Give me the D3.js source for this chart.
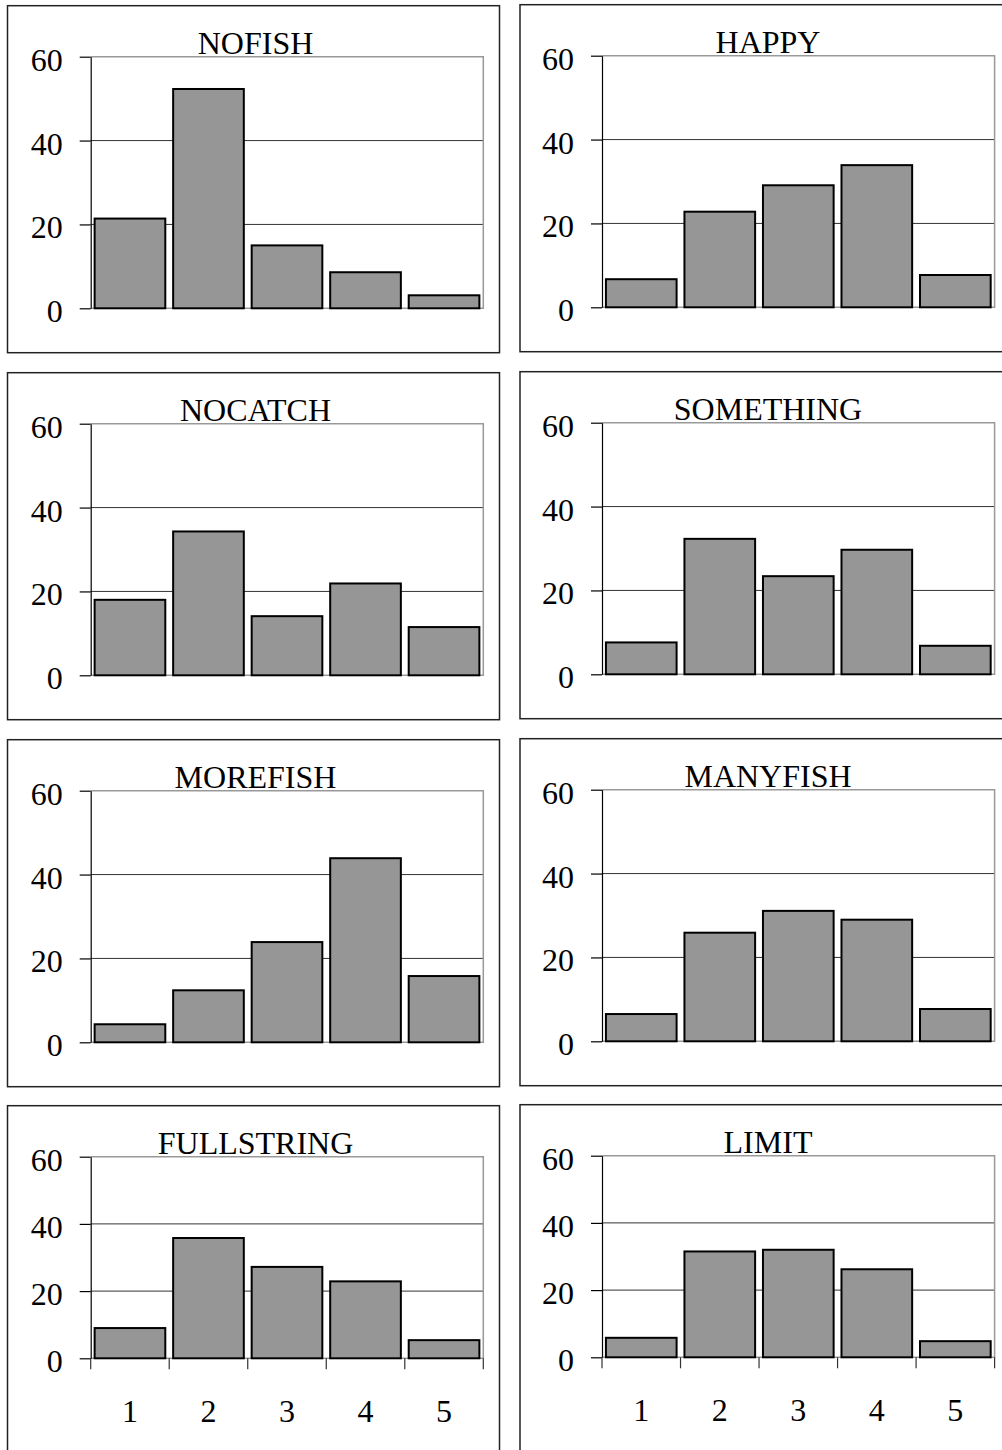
<!DOCTYPE html>
<html>
<head>
<meta charset="utf-8">
<script src="https://cdn.jsdelivr.net/npm/d3@7"></script>
<style>
  html, body { margin: 0; padding: 0; background: #fff; }
  svg { display: block; }
  text { font-family: "Liberation Serif", "Times New Roman", serif; fill: #000; }
</style>
</head>
<body>
<svg id="chart" width="1002" height="1450"></svg>
<script>
// ---- data ----
const categories = ["1", "2", "3", "4", "5"];
const yTicks = [0, 20, 40, 60];
const titles = ["NOFISH", "HAPPY", "NOCATCH", "SOMETHING", "MOREFISH", "MANYFISH", "FULLSTRING", "LIMIT"];
const nofish     = [21.4, 52.3, 15.0, 8.6, 3.1];
const happy      = [6.7, 22.8, 29.1, 33.9, 7.7];
const nocatch    = [18.0, 34.3, 14.1, 21.9, 11.5];
const something  = [7.6, 32.3, 23.4, 29.7, 6.8];
const morefish   = [4.3, 12.4, 23.9, 43.9, 15.8];
const manyfish   = [6.5, 25.9, 31.1, 29.0, 7.7];
const fullstring = [9.0, 35.8, 27.2, 22.9, 5.4];
const limit      = [5.8, 31.5, 32.0, 26.2, 4.8];
const seriesValues = [nofish, happy, nocatch, something, morefish, manyfish, fullstring, limit];

// ---- layout ----
const FONT = '"Liberation Serif", "Times New Roman", serif';
const svg = d3.select("#chart");
const colX = [7.5, 520];
const rowY = [5.7, 372.7, 739.7, 1105.7];
const frameW = 492, frameH = 347;
const plotLeft = 83.2, plotRight = 475.8, plotTop = 51;

titles.forEach((title, i) => {
  const col = i % 2, row = Math.floor(i / 2);
  const lastRow = row === rowY.length - 1;
  const ox = colX[col] - (col ? 1.2 : 0);
  const oy = rowY[row] - (col ? 1 : 0);
  const g = svg.append("g").attr("transform", `translate(${ox},${oy})`);
  const values = seriesValues[i];
  const plotBottom = lastRow ? 252.6 : 302.6;

  // frame
  g.append("rect")
    .attr("x", col ? 1.2 : 0).attr("y", 0)
    .attr("width", frameW).attr("height", frameH)
    .attr("fill", "none").attr("stroke", "#222").attr("stroke-width", 1.5);

  const x = d3.scaleBand().domain(categories)
    .range([plotLeft, plotRight]).paddingInner(0.1).paddingOuter(0.05);
  const y = d3.scaleLinear().domain([0, 60]).range([plotBottom, plotTop]);

  // gridlines
  g.append("g").selectAll("line").data(yTicks.filter(t => t > 0 && t < 60)).join("line")
    .attr("x1", plotLeft).attr("x2", plotRight)
    .attr("y1", d => y(d)).attr("y2", d => y(d))
    .attr("stroke", "#333").attr("stroke-width", 1);

  // plot border (top, right, bottom)
  g.append("path")
    .attr("d", `M${plotLeft},${y(60)}H${plotRight}V${y(0)}H${plotLeft}`)
    .attr("fill", "none").attr("stroke", "#999").attr("stroke-width", 1.5);

  // bars
  g.append("g").selectAll("rect").data(values).join("rect")
    .attr("x", (d, j) => x(categories[j]))
    .attr("width", x.bandwidth())
    .attr("y", d => y(d))
    .attr("height", d => y(0) - y(d))
    .attr("fill", "#969696").attr("stroke", "#000").attr("stroke-width", 2);

  // y axis
  const ya = g.append("g").attr("transform", `translate(${plotLeft},0)`)
    .call(d3.axisLeft(y).tickValues(yTicks).tickSize(11).tickSizeOuter(0).tickPadding(17));
  ya.attr("font-family", null).attr("font-size", null);
  ya.select(".domain").attr("stroke", "#000").attr("stroke-width", 1.2);
  ya.selectAll(".tick line").attr("stroke", "#000").attr("stroke-width", 1.2);
  ya.selectAll(".tick text")
    .style("font-family", FONT).style("font-size", "32px")
    .attr("dy", "0.42em").style("fill", "#000");

  // title
  g.append("text")
    .attr("x", frameW / 2 + 2 + (col ? 1.2 : 0)).attr("y", 48)
    .attr("text-anchor", "middle")
    .style("font-family", FONT).style("font-size", "32px")
    .text(title);

  if (lastRow) {
    const xa = g.append("g").attr("transform", `translate(0,${y(0)})`)
      .call(d3.axisBottom(x).tickSize(0).tickPadding(41));
    xa.attr("font-family", null).attr("font-size", null);
    xa.select(".domain").remove();
    xa.selectAll(".tick text")
      .style("font-family", FONT).style("font-size", "32px")
      .attr("dy", "0.71em").style("fill", "#000");
    // boundary ticks between categories
    const bounds = categories.map(c => x(c) - x.step() * x.paddingInner() / 2)
      .concat([x(categories[categories.length - 1]) + x.bandwidth() + x.step() * x.paddingInner() / 2]);
    g.append("g").selectAll("line").data(bounds).join("line")
      .attr("x1", d => d).attr("x2", d => d)
      .attr("y1", y(0)).attr("y2", y(0) + 11)
      .attr("stroke", "#333").attr("stroke-width", 1.2);
  }
});
</script>
</body>
</html>
